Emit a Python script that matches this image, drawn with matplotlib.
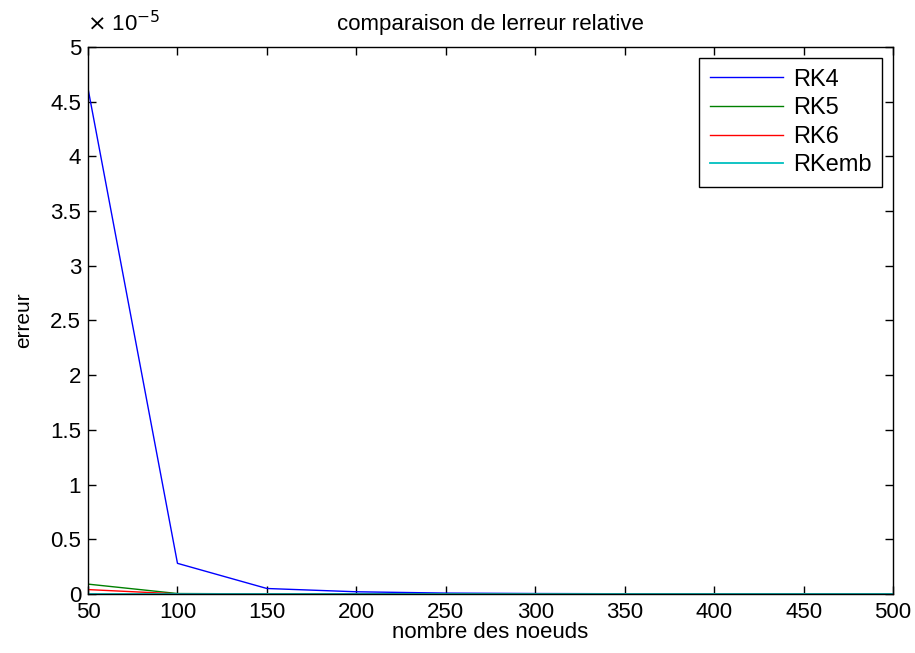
import matplotlib.pyplot as plt
from matplotlib.ticker import FuncFormatter, MultipleLocator

plt.rcParams['font.family'] = ['Liberation Sans', 'DejaVu Sans']

# nombre des noeuds
noeuds = [50, 100, 150, 200, 250, 300, 350, 400, 450, 500]

# erreur relative
rk4 = [4.62e-5, 0.28e-5, 0.05e-5, 0.02e-5, 0.008e-5, 0.004e-5, 0.002e-5, 0.001e-5, 0.0008e-5, 0.0005e-5]
rk5 = [0.09e-5, 0.004e-5, 0.0006e-5, 0.0002e-5, 0.0001e-5, 0.00005e-5, 0.00003e-5, 0.00002e-5, 0.00001e-5, 0.00001e-5]
rk6 = [0.04e-5, 0.001e-5, 0.0002e-5, 0.00005e-5, 0.00002e-5, 0.00001e-5, 0.00001e-5, 0.0, 0.0, 0.0]
rkemb = [0.0, 0.0, 0.0, 0.0, 0.0, 0.0, 0.0, 0.0, 0.0, 0.0]

fig = plt.figure(figsize=(9.15, 6.53), dpi=100)
ax = fig.add_axes([0.0962, 0.0904, 0.8798, 0.8376])

ax.plot(noeuds, rk4, color='#0000ff', lw=1, label='RK4')
ax.plot(noeuds, rk5, color='#008000', lw=1, label='RK5')
ax.plot(noeuds, rk6, color='#ff0000', lw=1, label='RK6')
ax.plot(noeuds, rkemb, color='#00bfbf', lw=1.3, label='RKemb')

ax.set_xlim(50, 500)
ax.set_ylim(0, 5e-5)
ax.xaxis.set_major_locator(MultipleLocator(50))
ax.yaxis.set_major_locator(MultipleLocator(0.5e-5))
ax.yaxis.set_major_formatter(FuncFormatter(lambda v, p: '%g' % round(v / 1e-5, 3)))

ax.tick_params(direction='in', top=True, right=True, length=6, width=1, labelsize=16)
ax.tick_params(axis='x', pad=6)
ax.tick_params(axis='y', pad=5)
for s in ax.spines.values():
    s.set_linewidth(1)

ax.set_title('comparaison de lerreur relative', fontsize=16, pad=12)
ax.set_xlabel('nombre des noeuds', fontsize=16, labelpad=-1)
ax.set_ylabel('erreur', fontsize=15, labelpad=12)
fig.text(0.095, 0.945, r'$\times$ 10$^{-5}$', fontsize=16, ha='left', va='bottom')

leg = ax.legend(loc='upper right', fontsize=17, handlelength=3.1, handletextpad=0.4,
                fancybox=False, edgecolor='black', framealpha=1, borderpad=0.45,
                labelspacing=0.28, borderaxespad=0, bbox_to_anchor=(0.986, 0.98))
leg.get_frame().set_linewidth(1)

fig.savefig('out.png', dpi=100)
